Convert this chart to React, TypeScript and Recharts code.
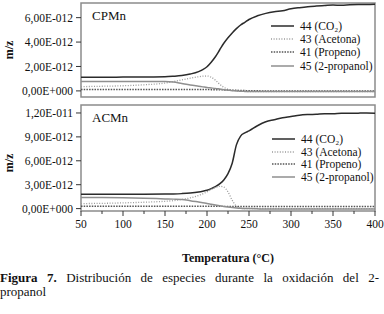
import React from "react";
import {
  LineChart,
  Line,
  XAxis,
  YAxis,
  ReferenceArea,
  Label,
} from "recharts";

// temperature grid (°C)
const temps = [
  50, 75, 100, 125, 150, 160, 170, 180, 190, 195, 200, 205, 210, 215, 220, 225,
  230, 235, 240, 245, 250, 260, 270, 280, 290, 300, 310, 320, 330, 340, 350,
  360, 370, 380, 390, 400,
];

// CPMn, values in units of 1E-12
const cpCo2 = [
  1.12, 1.12, 1.13, 1.14, 1.16, 1.2, 1.26, 1.38, 1.58, 1.75, 1.98, 2.35, 2.8,
  3.35, 3.9, 4.35, 4.75, 5.1, 5.4, 5.62, 5.85, 6.15, 6.35, 6.48, 6.56, 6.72,
  6.82, 6.9, 6.95, 6.99, 7.03, 7.02, 7.06, 7.08, 7.07, 7.1,
];
const cpAcetona = [
  0.35, 0.38, 0.42, 0.5, 0.64, 0.76, 0.9, 1.04, 1.16, 1.21, 1.22, 1.12, 0.88,
  0.55, 0.3, 0.13, 0.04, 0.0, -0.03, -0.04, -0.05, -0.05, -0.05, -0.05, -0.05,
  -0.05, -0.05, -0.05, -0.05, -0.05, -0.05, -0.05, -0.05, -0.05, -0.05, -0.05,
];
const cpPropeno = [
  0.12, 0.12, 0.12, 0.12, 0.12, 0.12, 0.12, 0.12, 0.11, 0.11, 0.11, 0.1, 0.1,
  0.09, 0.08, 0.07, 0.06, 0.05, 0.04, 0.03, 0.02, 0.01, 0.0, 0.0, 0.0, 0.0,
  0.0, 0.0, 0.0, 0.0, 0.0, 0.0, 0.0, 0.0, 0.0, 0.0,
];
const cpPropanol = [
  0.76, 0.76, 0.76, 0.76, 0.76, 0.72, 0.6, 0.48, 0.38, 0.33, 0.28, 0.24, 0.2,
  0.15, 0.1, 0.06, 0.02, 0.0, -0.03, -0.04, -0.05, -0.05, -0.05, -0.05, -0.05,
  -0.05, -0.05, -0.05, -0.05, -0.05, -0.05, -0.05, -0.05, -0.05, -0.05, -0.05,
];

// ACMn, values in units of 1E-12
const acCo2 = [
  1.8, 1.8, 1.8, 1.8, 1.82, 1.84, 1.88, 1.95, 2.08, 2.18, 2.3, 2.5, 2.75, 3.1,
  3.6, 4.4, 5.7, 8.0, 9.1, 9.5, 9.75, 10.4, 10.9, 11.15, 11.4, 11.55, 11.72,
  11.8, 11.84, 11.9, 11.9, 11.96, 11.95, 11.98, 12.0, 11.98,
];
const acAcetona = [
  0.63, 0.66, 0.72, 0.8, 0.92, 1.0, 1.15, 1.35, 1.65, 1.85, 2.1, 2.4, 2.65,
  2.8, 2.7, 2.1, 1.05, 0.3, 0.05, 0.0, 0.0, 0.0, 0.0, 0.0, 0.0, 0.0, 0.0, 0.0,
  0.0, 0.0, 0.0, 0.0, 0.0, 0.0, 0.0, 0.0,
];
const acPropeno = [
  0.3, 0.3, 0.3, 0.3, 0.3, 0.3, 0.3, 0.3, 0.3, 0.3, 0.3, 0.3, 0.29, 0.29, 0.28,
  0.28, 0.27, 0.27, 0.27, 0.26, 0.26, 0.26, 0.26, 0.26, 0.26, 0.26, 0.26, 0.26,
  0.26, 0.26, 0.26, 0.26, 0.26, 0.26, 0.26, 0.26,
];
const acPropanol = [
  1.4, 1.39, 1.36, 1.3, 1.22, 1.19, 1.15, 1.0, 0.82, 0.73, 0.65, 0.55, 0.45,
  0.36, 0.27, 0.2, 0.14, 0.09, 0.05, 0.02, 0.0, -0.03, -0.05, -0.05, -0.05,
  -0.05, -0.05, -0.05, -0.05, -0.05, -0.05, -0.05, -0.05, -0.05, -0.05, -0.05,
];

const xTicks = [50, 75, 100, 125, 150, 175, 200, 225, 250, 275, 300, 325, 350, 375, 400];
const cpTicks = [0, 2, 4, 6];
const acTicks = [0, 3, 6, 9, 12];

const seriesNames = ["44 (CO₂)", "43 (Acetona)", "41 (Propeno)", "45 (2-propanol)"];

const FONT = "'Liberation Serif', 'DejaVu Serif', 'Noto Serif', 'Times New Roman', Times, serif";

const styles = {
  co2: { stroke: "#2b2b2b", strokeWidth: 1.5, dash: undefined as string | undefined },
  acetona: { stroke: "#9a9a9a", strokeWidth: 1.3, dash: "1 1.6" },
  propeno: { stroke: "#555555", strokeWidth: 1.4, dash: "1.5 1.2" },
  propanol: { stroke: "#8f8f8f", strokeWidth: 1.5, dash: undefined as string | undefined },
};
const styleList = [styles.co2, styles.acetona, styles.propeno, styles.propanol];

function buildRows(a: number[], b: number[], c: number[], d: number[]) {
  return temps.map((t, i) => ({
    t,
    co2: a[i],
    acetona: b[i],
    propeno: c[i],
    propanol: d[i],
  }));
}

const cpRows = buildRows(cpCo2, cpAcetona, cpPropeno, cpPropanol);
const acRows = buildRows(acCo2, acAcetona, acPropeno, acPropanol);

function sci(v: number) {
  if (v === 0) return "0,00E+000";
  const real = v * 1e-12;
  const exp = Math.floor(Math.log10(Math.abs(real)) + 1e-9);
  const mant = real / Math.pow(10, exp);
  const sign = exp < 0 ? "-" : "+";
  return mant.toFixed(2).replace(".", ",") + "E" + sign + String(Math.abs(exp)).padStart(3, "0");
}

const XTick = (props: any) => {
  const { x, y, payload } = props;
  const major = payload.value % 50 === 0;
  const axisY = y - 9;
  return (
    <g>
      <line x1={x} x2={x} y1={axisY} y2={axisY + (major ? 5 : 3)} stroke="#333" />
      {major && (
        <text x={x} y={y} dy="0.71em" textAnchor="middle" fontSize={11.5} fill="#111" style={{ fontFamily: FONT }}>
          {payload.value}
        </text>
      )}
    </g>
  );
};

const yLabel = (shift: number) => (props: any) => {
  const vb = props.viewBox;
  const cy = vb.y + vb.height / 2 + shift;
  return (
    <text
      x={13}
      y={cy}
      transform={`rotate(-90, 13, ${cy})`}
      textAnchor="middle"
      fontSize={12}
      fontWeight="bold"
      fill="#111"
      style={{ fontFamily: FONT }}
    >
      m/z
    </text>
  );
};

const panelName = (name: string) => (props: any) => {
  const vb = props.viewBox;
  return (
    <text x={vb.x + 11} y={vb.y + 17} fontSize={13} fill="#111" style={{ fontFamily: FONT }}>
      {name}
    </text>
  );
};

function renderLines() {
  const keys = ["co2", "acetona", "propeno", "propanol"] as const;
  return keys.map((k, i) => (
    <Line
      key={k}
      dataKey={k}
      type="monotone"
      dot={false}
      stroke={styleList[i].stroke}
      strokeWidth={styleList[i].strokeWidth}
      strokeDasharray={styleList[i].dash}
      isAnimationActive={false}
    />
  ));
}

function LegendBox({ left, top, gap }: { left: number; top: number; gap: number }) {
  return (
    <div style={{ position: "absolute", left, top, fontFamily: FONT, fontSize: 11.5, color: "#111" }}>
      {seriesNames.map((n, i) => (
        <div key={n} style={{ display: "flex", alignItems: "center", height: gap, whiteSpace: "nowrap" }}>
          <svg width={26} height={6} style={{ marginRight: 4 }}>
            <line
              x1={1}
              x2={24}
              y1={3}
              y2={3}
              stroke={styleList[i].stroke}
              strokeWidth={styleList[i].strokeWidth}
              strokeDasharray={styleList[i].dash}
            />
          </svg>
          <span>{n}</span>
        </div>
      ))}
    </div>
  );
}

const tickStyle = { fontSize: 11.5, fill: "#111", fontFamily: FONT };

export default function App() {
  return (
    <div style={{ position: "absolute", left: 0, top: 0, width: 384, height: 314, background: "#fff", fontFamily: FONT }}>
      <div style={{ position: "absolute", left: 0, top: 0 }}>
        <LineChart
          width={384}
          height={100}
          data={cpRows}
          margin={{ top: 3, right: 9, bottom: 3, left: 0 }}
          style={{ fontFamily: FONT }}
        >
          <XAxis dataKey="t" type="number" domain={[50, 400]} hide />
          <YAxis
            type="number"
            domain={[-0.5, 7.2]}
            ticks={cpTicks}
            tickFormatter={sci}
            width={81}
            tickSize={5}
            tickMargin={3}
            axisLine={false}
            tickLine={{ stroke: "#333" }}
            tick={tickStyle}
            allowDataOverflow
          >
            <Label content={yLabel(0)} />
          </YAxis>
          <ReferenceArea
            x1={50}
            x2={400}
            y1={-0.5}
            y2={7.2}
            fill="none"
            stroke="#8c8c8c"
            strokeWidth={1.5}
            label={panelName("CPMn")}
          />
          {renderLines()}
        </LineChart>
      </div>
      <div style={{ position: "absolute", left: 0, top: 102 }}>
        <LineChart
          width={384}
          height={164}
          data={acRows}
          margin={{ top: 3, right: 9, bottom: 0, left: 0 }}
          style={{ fontFamily: FONT }}
        >
          <XAxis
            dataKey="t"
            type="number"
            domain={[50, 400]}
            ticks={xTicks}
            height={55}
            tickSize={0}
            tickMargin={9}
            axisLine={false}
            tickLine={false}
            tick={<XTick />}
            interval={0}
          >
            <Label
              value="Temperatura (°C)"
              position="insideBottom"
              offset={4}
              style={{ fontSize: 12, fontWeight: "bold", fill: "#111", fontFamily: FONT }}
            />
          </XAxis>
          <YAxis
            type="number"
            domain={[-0.3, 13]}
            ticks={acTicks}
            tickFormatter={sci}
            width={81}
            tickSize={5}
            tickMargin={3}
            axisLine={false}
            tickLine={{ stroke: "#333" }}
            tick={tickStyle}
            allowDataOverflow
          >
            <Label content={yLabel(5)} />
          </YAxis>
          <ReferenceArea
            x1={50}
            x2={400}
            y1={-0.3}
            y2={13}
            fill="none"
            stroke="#8c8c8c"
            strokeWidth={1.5}
            label={panelName("ACMn")}
          />
          {renderLines()}
        </LineChart>
      </div>
      <LegendBox left={270} top={19} gap={13.3} />
      <LegendBox left={271} top={133} gap={12.6} />
      <div style={{ position: "absolute", left: 0, top: 271, width: 379, fontSize: 13, lineHeight: "13.7px", color: "#111" }}>
        <div style={{ textAlign: "justify", textAlignLast: "justify", whiteSpace: "nowrap" }}>
          <b>Figura 7.</b> Distribución de especies durante la oxidación del 2-
        </div>
        <div>propanol</div>
      </div>
    </div>
  );
}
